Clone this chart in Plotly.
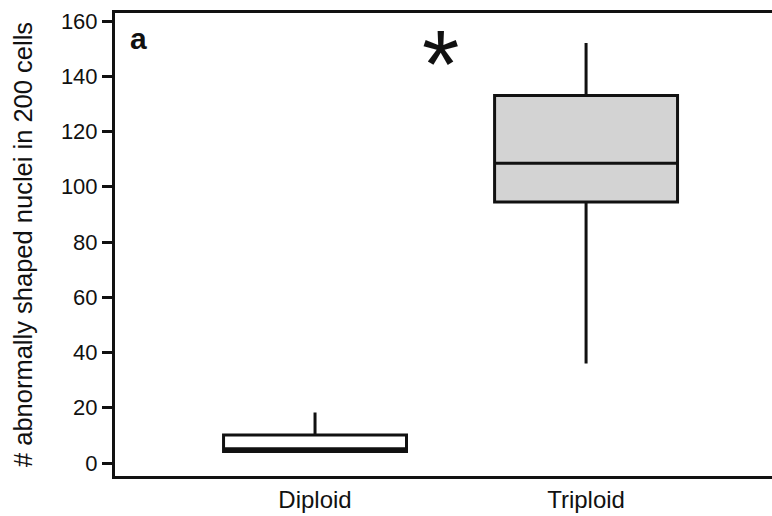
import plotly.graph_objects as go

categories = ["Diploid", "Triploid"]
q1 = [4.2, 94.5]
median = [5.2, 108.5]
q3 = [10.1, 133.0]
lower = [4.2, 36.0]
upper = [18.3, 152.0]
fills = ["#ffffff", "#d3d3d3"]
y_ticks = [0, 20, 40, 60, 80, 100, 120, 140, 160]

fig = go.Figure()
for i, c in enumerate(categories):
    fig.add_trace(go.Box(
        x=[c], q1=[q1[i]], median=[median[i]], q3=[q3[i]],
        lowerfence=[lower[i]], upperfence=[upper[i]],
        fillcolor=fills[i], line=dict(color="#111111", width=3),
        whiskerwidth=0, width=0.675, boxpoints=False, showlegend=False,
        hoverinfo="skip",
    ))

fig.add_annotation(x=0, y=1, xref="paper", yref="paper", text="<b>a</b>",
                   showarrow=False, xanchor="left", yanchor="top",
                   xshift=13, yshift=-7,
                   font=dict(family="Liberation Sans, Arial", size=30, color="#111111"))
fig.add_annotation(x=0.495, y=1, xref="paper", yref="paper", text="*",
                   showarrow=False, xanchor="center", yanchor="top",
                   yshift=5,
                   font=dict(family="Liberation Sans, Arial", size=96, color="#111111"))

fig.update_layout(
    width=772, height=516,
    margin=dict(l=115, r=0, t=13, b=40),
    plot_bgcolor="white", paper_bgcolor="white",
    font=dict(family="Liberation Sans, Arial", color="#111111"),
    xaxis=dict(type="category", categoryorder="array", categoryarray=categories,
               range=[-0.738, 1.686], showline=True, linecolor="#111111",
               linewidth=3, mirror=True, ticks="", showgrid=False,
               zeroline=False, tickfont=dict(size=24)),
    yaxis=dict(range=[-4.7, 162.9], tickvals=y_ticks, showline=True,
               linecolor="#111111", linewidth=3, ticks="outside", ticklen=10,
               tickwidth=2.5, tickcolor="#111111", showgrid=False,
               zeroline=False, tickfont=dict(size=22),
               title=dict(text="# abnormally shaped nuclei in 200 cells",
                          font=dict(size=25.5), standoff=21)),
)

fig.write_html("out.html")
